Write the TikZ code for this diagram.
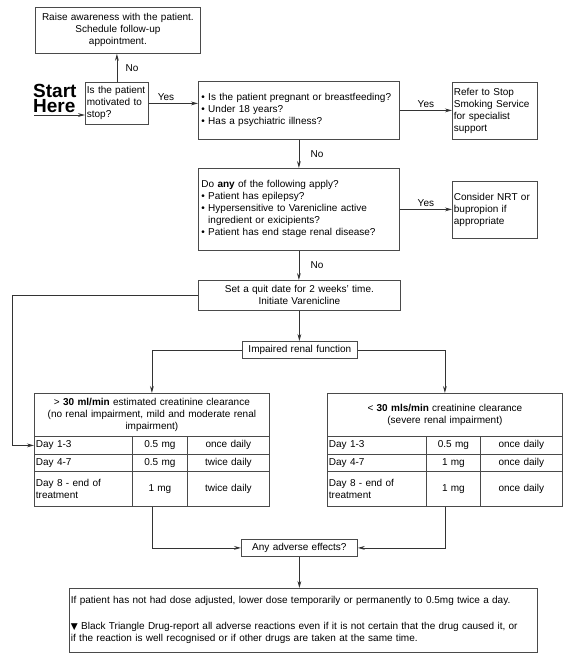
\documentclass[tikz,border=0pt]{standalone}
\usepackage{fontspec}
\setmainfont{Liberation Sans}
\newfontfamily\symbolfont{DejaVu Sans}
\usetikzlibrary{arrows.meta}
\definecolor{linegray}{HTML}{333333}
\definecolor{boxline}{HTML}{4A4A4A}

\begin{document}
\begin{tikzpicture}[
    x=1pt, y=-1pt,
    >={Stealth[length=7pt, width=3.8pt]},
    font=\fontsize{10}{12}\selectfont,
    box/.style={draw=boxline, line width=0.8pt, anchor=north west, inner xsep=1.5pt, inner ysep=0pt, align=left},
    cbox/.style={box, align=center},
    cell/.style={draw=boxline, line width=0.8pt, anchor=north west, inner sep=0pt, align=center},
    daycell/.style={cell, inner xsep=1.5pt, align=left},
    arr/.style={->, draw=linegray, line width=0.8pt},
    bigword/.style={anchor=base west, inner sep=0pt, font=\fontsize{19}{16}\selectfont\bfseries}
]
    \useasboundingbox (0,0) rectangle (573,657);

    % Start and first question
    \node[bigword] (start) at (33,97) {Start};
    \node[bigword] (here) at (33,112.5) {Here};
    \coordinate (startarr) at (34,115);
    \node[box, text width=60pt, minimum height=42pt] (motiv) at (85,82) {Is the patient\\motivated to\\stop?};
    \node[cbox, text width=162pt, minimum height=46pt] (aware) at (35,7) {Raise awareness with the patient.\\Schedule follow-up\\appointment.};

    % Exclusion checks
    \node[box, inner xsep=3pt, text width=195pt, minimum height=58pt] (preg) at (198,81) {\textbullet\ Is the patient pregnant or breastfeeding?\\\textbullet\ Under 18 years?\\\textbullet\ Has a psychiatric illness?};
    \node[box, text width=82pt, minimum height=57pt] (refer) at (452,82) {Refer to Stop\\Smoking Service\\for specialist\\support};
    \node[box, inner xsep=3pt, text width=195pt, minimum height=82pt] (anyq) at (198,168) {Do \textbf{any} of the following apply?\\\textbullet\ Patient has epilepsy?\\\textbullet\ Hypersensitive to Varenicline active\\\phantom{\textbullet\ }ingredient or exicipients?\\\textbullet\ Patient has end stage renal disease?};
    \node[box, text width=82pt, minimum height=57pt] (consider) at (452,181) {Consider NRT or\\bupropion if\\appropriate};

    % Quit date and renal split
    \node[cbox, text width=199pt, minimum height=30pt] (quit) at (198,280) {Set a quit date for 2 weeks' time.\\Initiate Varenicline};
    \node[cbox, text width=112pt, minimum height=17pt] (renal) at (242,341) {Impaired renal function};
    \coordinate (bend) at (12,0);

    % Left dosing table (> 30 ml/min)
    \node[cell, text width=235pt, minimum height=43pt] (lhead) at (34,393) {> \textbf{30 ml/min} estimated creatinine clearance\\(no renal impairment, mild and moderate renal\\impairment)};
    \node[daycell, text width=95pt, minimum height=18pt] (l13a) at (34,436) {Day 1-3};
    \node[cell, text width=55pt, minimum height=18pt] (l13b) at (132,436) {0.5 mg};
    \node[cell, text width=82pt, minimum height=18pt] (l13c) at (187,436) {once daily};
    \node[daycell, text width=95pt, minimum height=17pt] (l47a) at (34,454) {Day 4-7};
    \node[cell, text width=55pt, minimum height=17pt] (l47b) at (132,454) {0.5 mg};
    \node[cell, text width=82pt, minimum height=17pt] (l47c) at (187,454) {twice daily};
    \node[daycell, text width=95pt, minimum height=35pt] (l8a) at (34,471) {Day 8 - end of\\treatment};
    \node[cell, text width=55pt, minimum height=35pt] (l8b) at (132,471) {1 mg};
    \node[cell, text width=82pt, minimum height=35pt] (l8c) at (187,471) {twice daily};

    % Right dosing table (< 30 mls/min)
    \node[cell, text width=235pt, minimum height=43pt] (rhead) at (327,393) {< \textbf{30 mls/min} creatinine clearance\\(severe renal impairment)};
    \node[daycell, text width=96pt, minimum height=18pt] (r13a) at (327,436) {Day 1-3};
    \node[cell, text width=54pt, minimum height=18pt] (r13b) at (426,436) {0.5 mg};
    \node[cell, text width=82pt, minimum height=18pt] (r13c) at (480,436) {once daily};
    \node[daycell, text width=96pt, minimum height=17pt] (r47a) at (327,454) {Day 4-7};
    \node[cell, text width=54pt, minimum height=17pt] (r47b) at (426,454) {1 mg};
    \node[cell, text width=82pt, minimum height=17pt] (r47c) at (480,454) {once daily};
    \node[daycell, text width=96pt, minimum height=35pt] (r8a) at (327,471) {Day 8 - end of\\treatment};
    \node[cell, text width=54pt, minimum height=35pt] (r8b) at (426,471) {1 mg};
    \node[cell, text width=82pt, minimum height=35pt] (r8c) at (480,471) {once daily};

    % Adverse effects
    \node[cbox, text width=113pt, minimum height=17pt] (adverse) at (241,539) {Any adverse effects?};
    \node[box, text width=465pt, minimum height=64pt] (final) at (69,588) {If patient has not had dose adjusted, lower dose temporarily or permanently to 0.5mg twice a day.\\[14pt]{\symbolfont\fontsize{9}{12}\selectfont ▼} Black Triangle Drug-report all adverse reactions even if it is not certain that the drug caused it, or\\if the reaction is well recognised or if other drugs are taken at the same time.};

    % Connectors
    \draw[arr] (startarr) -- (startarr -| motiv.west);
    \draw[arr] (motiv.north) -- (motiv.north |- aware.south) node[midway, right=5pt] {No};
    \draw[arr] (motiv.east) -- (motiv.east -| preg.west) node[pos=0.35, above=-1pt] {Yes};
    \draw[arr] (preg.east) -- (preg.east -| refer.west) node[midway, above=-1pt] {Yes};
    \draw[arr] (preg.south) -- (preg.south |- anyq.north) node[midway, right=8pt] {No};
    \draw[arr] (anyq.east) -- (anyq.east -| consider.west) node[midway, above=-1pt] {Yes};
    \draw[arr] (anyq.south) -- (anyq.south |- quit.north) node[midway, right=8pt] {No};
    \draw[arr] (quit.south) -- (quit.south |- renal.north);
    \draw[arr] (quit.west) -- (quit.west -| bend) |- (l13a.west);
    \draw[arr] (renal.west) -| (lhead.north);
    \draw[arr] (renal.east) -| (rhead.north);
    \draw[arr] (l8a.south -| lhead.north) |- (adverse.west);
    \draw[arr] (r8a.south -| rhead.north) |- (adverse.east);
    \draw[arr] (adverse.south) -- (adverse.south |- final.north);

\end{tikzpicture}
\end{document}
